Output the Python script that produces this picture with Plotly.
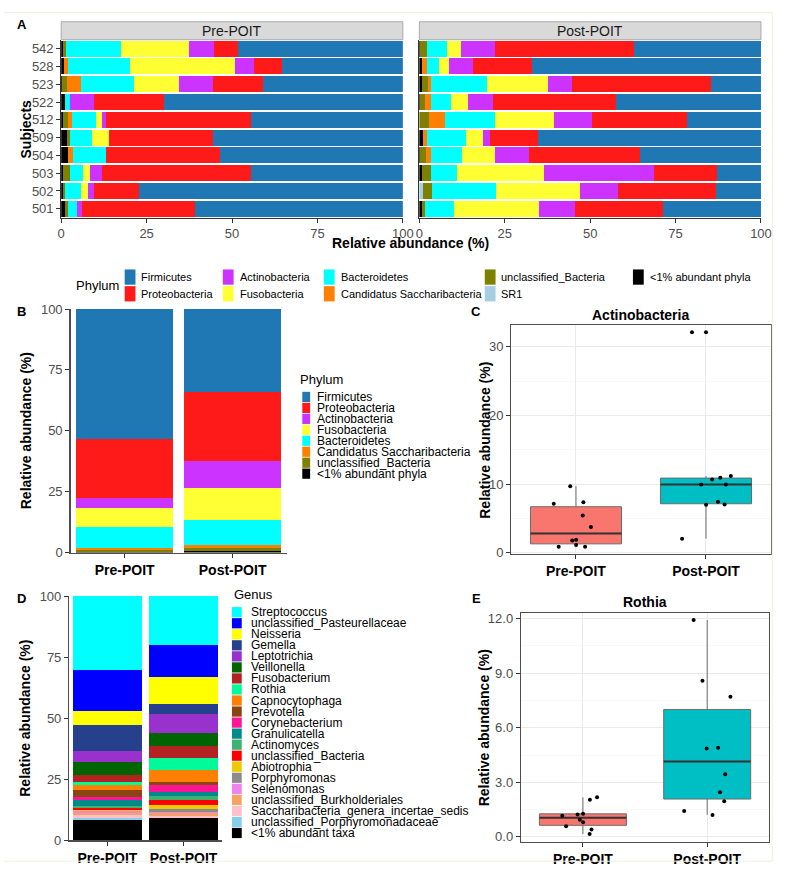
import numpy as np
import plotly.graph_objects as go

FONT = "Liberation Sans, Arial, sans-serif"
W, H = 797, 880

# ---------------- Panel A data (subject order bottom -> top) ----------------
subjects = ["501", "502", "503", "504", "509", "512", "522", "523", "528", "542"]

pre_lt1 = [1.0, 0.5, 0.5, 1.9, 1.7, 0.4, 1.0, 0.3, 0.8, 0.5]
pre_sr1 = [0, 0, 0, 0, 0, 0, 0, 0, 0, 0]
pre_uncl = [0.9, 0.7, 2.1, 0, 1.0, 1.6, 0, 1.4, 0, 0.9]
pre_cand = [0, 0, 0, 1.5, 0, 1.2, 0, 4.1, 1.3, 0]
pre_bact = [2.6, 4.5, 3.9, 9.8, 6.4, 7.1, 1.6, 15.4, 17.9, 16.0]
pre_fuso = [0, 2.1, 1.8, 0, 5.0, 1.5, 0, 13.4, 31.0, 20.1]
pre_actino = [1.7, 1.8, 3.7, 0, 0, 1.2, 7.0, 9.7, 5.5, 7.3]
pre_prot = [33.0, 13.2, 43.6, 33.3, 30.2, 42.6, 20.5, 14.8, 8.2, 6.9]
pre_firm = [60.8, 77.2, 44.4, 53.5, 55.7, 44.4, 69.9, 40.9, 35.3, 48.3]

post_lt1 = [0.7, 0, 0.7, 0.3, 1.0, 0, 0.3, 0.7, 0.8, 0.3]
post_sr1 = [0, 1.2, 0, 0, 0, 0, 0, 0, 0, 0]
post_uncl = [1.0, 2.6, 2.6, 1.6, 0, 2.7, 1.3, 1.7, 0, 1.8]
post_cand = [0, 0, 0, 1.5, 1.1, 4.8, 1.8, 1.1, 1.3, 0]
post_bact = [8.5, 18.7, 7.7, 9.2, 11.7, 14.6, 5.8, 16.3, 3.8, 6.0]
post_fuso = [24.8, 24.6, 25.6, 9.5, 4.7, 17.3, 4.9, 17.8, 2.8, 4.2]
post_actino = [10.6, 11.0, 32.2, 10.0, 2.1, 11.2, 7.4, 7.2, 7.1, 9.9]
post_prot = [25.8, 28.8, 18.3, 32.6, 14.1, 27.6, 36.0, 40.5, 17.1, 40.7]
post_firm = [28.6, 13.1, 12.9, 35.3, 65.3, 21.8, 42.5, 14.7, 67.1, 37.1]

phyla_stack = ["<1% abundant phyla", "SR1", "unclassified_Bacteria", "Candidatus Saccharibacteria",
               "Bacteroidetes", "Fusobacteria", "Actinobacteria", "Proteobacteria", "Firmicutes"]
phyla_colors = ["#000000", "#A6CEE3", "#808000", "#FF7F00",
                "#00FFFF", "#FFFF33", "#CC33FF", "#FF1A1A", "#1F78B4"]
pre_A = [pre_lt1, pre_sr1, pre_uncl, pre_cand, pre_bact, pre_fuso, pre_actino, pre_prot, pre_firm]
post_A = [post_lt1, post_sr1, post_uncl, post_cand, post_bact, post_fuso, post_actino, post_prot, post_firm]

# ---------------- Panel B data ----------------
groups = ["Pre-POIT", "Post-POIT"]
B_lt1 = [0.4, 0.5]
B_uncl = [0.7, 1.2]
B_cand = [0.9, 1.4]
B_bact = [8.5, 10.1]
B_fuso = [7.7, 13.4]
B_actino = [4.0, 11.1]
B_prot = [24.6, 28.2]
B_firm = [53.2, 34.1]
B_names = ["<1% abundant phyla", "unclassified_Bacteria", "Candidatus Saccharibacteria", "Bacteroidetes",
           "Fusobacteria", "Actinobacteria", "Proteobacteria", "Firmicutes"]
B_colors = ["#000000", "#808000", "#FF7F00", "#00FFFF", "#FFFF33", "#CC33FF", "#FF1A1A", "#1F78B4"]
B_vals = [B_lt1, B_uncl, B_cand, B_bact, B_fuso, B_actino, B_prot, B_firm]

# ---------------- Panel C / E data ----------------
C_pre = [9.71, 7.14, 7.38, 5.43, 3.76, 1.81, 1.90, 1.14, 0.90, 0.90]
C_pre_jit = [-0.044, -0.171, 0.057, 0.052, 0.115, -0.029, 0.001, 0.001, -0.133, 0.070]
C_post = [32.1, 11.19, 10.95, 10.67, 9.95, 9.95, 7.43, 7.0, 7.05, 2.05]
C_post_jit = [-0.108, 0.191, 0.110, 0.047, -0.037, 0.153, 0.092, 0.001, 0.143, -0.184]

E_pre = [1.17, 0.58, 1.23, 0.95, 1.28, 0.81, 0.16, 0.41, 2.05, 2.18]
E_pre_jit = [-0.166, -0.135, -0.043, -0.025, 0.001, 0.001, 0.054, 0.069, 0.056, 0.114]
E_post = [11.93, 8.58, 7.71, 4.86, 4.90, 3.44, 2.45, 1.96, 1.42, 1.21]
E_post_jit = [-0.109, -0.038, 0.187, -0.004, 0.088, 0.145, 0.103, 0.137, -0.185, 0.043]

# ---------------- Panel D data (legend order, top of stack first) ----------------
genera = ["Streptococcus", "unclassified_Pasteurellaceae", "Neisseria", "Gemella", "Leptotrichia",
          "Veillonella", "Fusobacterium", "Rothia", "Capnocytophaga", "Prevotella", "Corynebacterium",
          "Granulicatella", "Actinomyces", "unclassified_Bacteria", "Abiotrophia", "Porphyromonas",
          "Selenomonas", "unclassified_Burkholderiales", "Saccharibacteria_genera_incertae_sedis",
          "unclassified_Porphyromonadaceae", "<1% abundant taxa"]
genus_colors = ["#00FFFF", "#0000FF", "#FFFF00", "#27408B", "#9932CC", "#006400", "#B22222", "#00FA9A",
                "#FF7F00", "#8B4513", "#FF1493", "#008B8B", "#3CB371", "#FF0000", "#EEC900", "#8B8B8B",
                "#EE82EE", "#F4A460", "#FFC0CB", "#87CEEB", "#000000"]
D_pre = [30.1, 16.9, 5.9, 10.5, 4.5, 5.4, 2.8, 1.4, 2.0, 2.6, 1.6, 2.2, 0.9, 0.8, 0.3, 0.3, 0.8, 0.5, 1.2, 1.1, 8.2]
D_post = [19.9, 13.4, 11.0, 3.8, 7.9, 5.5, 4.9, 5.0, 4.7, 1.4, 2.6, 1.6, 2.0, 1.8, 1.6, 1.2, 0.4, 1.2, 0.8, 0.3, 9.0]

box_colors = ["#F8766D", "#00BFC4"]


def px(p):
    return p / W


def py(p):
    return 1 - p / H


fig = go.Figure()

# Panel A bars
for name, col, pre, post in zip(phyla_stack, phyla_colors, pre_A, post_A):
    fig.add_trace(go.Bar(y=subjects, x=pre, orientation="h", marker=dict(color=col, line=dict(width=0)),
                         name=name, showlegend=False, xaxis="x", yaxis="y"))
    fig.add_trace(go.Bar(y=subjects, x=post, orientation="h", marker=dict(color=col, line=dict(width=0)),
                         name=name, showlegend=False, xaxis="x2", yaxis="y2"))

# Panel B bars
for name, col, v in zip(B_names, B_colors, B_vals):
    fig.add_trace(go.Bar(x=groups, y=v, marker=dict(color=col, line=dict(width=0)), name=name,
                         showlegend=False, xaxis="x3", yaxis="y3"))

# Panel D bars (bottom of stack first)
for name, col, a, b in reversed(list(zip(genera, genus_colors, D_pre, D_post))):
    fig.add_trace(go.Bar(x=groups, y=[a, b], marker=dict(color=col, line=dict(width=0)), name=name,
                         showlegend=False, xaxis="x5", yaxis="y5"))


def box_stats(vals):
    v = np.array(vals)
    q1, med, q3 = np.percentile(v, [25, 50, 75])
    iqr = q3 - q1
    lo_f, hi_f = q1 - 1.5 * iqr, q3 + 1.5 * iqr
    inside = v[(v >= lo_f) & (v <= hi_f)]
    out = v[(v < lo_f) | (v > hi_f)]
    return q1, med, q3, inside.min(), inside.max(), out


BOXW = 0.7


def add_boxes(series, jits, xa, ya):
    for i, (vals, jit) in enumerate(zip(series, jits)):
        q1, med, q3, lo, hi, out = box_stats(vals)
        fig.add_trace(go.Box(x=[i], q1=[q1], median=[med], q3=[q3], lowerfence=[lo], upperfence=[hi],
                             width=BOXW, whiskerwidth=0, fillcolor=box_colors[i],
                             line=dict(color="#6B6B6B", width=1), boxpoints=False,
                             showlegend=False, xaxis=xa, yaxis=ya, hoverinfo="skip"))
        fig.add_trace(go.Scatter(x=[i - BOXW / 2, i + BOXW / 2], y=[med, med], mode="lines",
                                 line=dict(color="#333333", width=2), showlegend=False,
                                 xaxis=xa, yaxis=ya, hoverinfo="skip"))
        if len(out):
            fig.add_trace(go.Scatter(x=[i] * len(out), y=list(out), mode="markers",
                                     marker=dict(color="#000000", size=4), showlegend=False,
                                     xaxis=xa, yaxis=ya))
        fig.add_trace(go.Scatter(x=[i + j for j in jit], y=vals, mode="markers",
                                 marker=dict(color="#000000", size=4), showlegend=False,
                                 xaxis=xa, yaxis=ya))


add_boxes([C_pre, C_post], [C_pre_jit, C_post_jit], "x4", "y4")
add_boxes([E_pre, E_post], [E_pre_jit, E_post_jit], "x6", "y6")

tickfont = dict(size=13, color="#4D4D4D", family=FONT)
boldtick = dict(size=14, color="#000000", family=FONT, weight="bold")
base = dict(ticks="outside", ticklen=4, tickcolor="#333333", tickwidth=1, tickfont=tickfont,
            zeroline=False, showgrid=False, fixedrange=True)

# A axes
yA = [py(214.3), py(33.3)]
fig.update_layout(
    xaxis=dict(base, domain=[px(58.3), px(406.5)], range=[0, 100], tickvals=[0, 25, 50, 75, 100],
               showline=True, linecolor="#333333", linewidth=1, anchor="y"),
    yaxis=dict(base, domain=yA, type="category", categoryorder="array", categoryarray=subjects,
               range=[-0.5, 9.5], showline=True, linecolor="#333333", linewidth=1, anchor="x"),
    xaxis2=dict(base, domain=[px(423.3), px(771.5)], range=[0, 100], tickvals=[0, 25, 50, 75, 100],
                showline=True, linecolor="#333333", linewidth=1, anchor="y2"),
    yaxis2=dict(base, domain=yA, type="category", categoryorder="array", categoryarray=subjects,
                range=[-0.5, 9.5], showticklabels=False, ticks="", showline=True,
                linecolor="#333333", linewidth=1, anchor="x2"),
    # B
    xaxis3=dict(base, domain=[px(68), px(288)], type="category", categoryorder="array",
                categoryarray=groups, range=[-0.5, 1.5], tickfont=boldtick, showline=True,
                linecolor="#4D4D4D", linewidth=1.5, anchor="y3"),
    yaxis3=dict(base, domain=[py(555), py(307.3)], range=[0, 100], tickvals=[0, 25, 50, 75, 100],
                showline=True, linecolor="#4D4D4D", linewidth=1.5, anchor="x3"),
    # C
    xaxis4=dict(base, domain=[px(516.7), px(781.7)], range=[-0.5, 1.5], tickvals=[0, 1], ticktext=groups,
                tickfont=boldtick, showgrid=True, gridcolor="#EBEBEB", gridwidth=1,
                showline=True, mirror=True, linecolor="#4D4D4D", linewidth=1, anchor="y4"),
    yaxis4=dict(base, domain=[py(556.7), py(324)], range=[-0.2, 33.1], tickvals=[0, 10, 20, 30],
                showgrid=True, gridcolor="#EBEBEB", gridwidth=1,
                minor=dict(tickvals=[5, 15, 25], showgrid=True, gridcolor="#F4F4F4", gridwidth=0.6, ticks=""),
                showline=True, mirror=True, linecolor="#4D4D4D", linewidth=1, anchor="x4"),
    # D
    xaxis5=dict(base, domain=[px(66.7), px(221.7)], type="category", categoryorder="array",
                categoryarray=groups, range=[-0.5, 1.5], tickfont=boldtick, showline=True,
                linecolor="#4D4D4D", linewidth=1.5, anchor="y5"),
    yaxis5=dict(base, domain=[py(847.7), py(599.3)], range=[0, 100], tickvals=[0, 25, 50, 75, 100],
                showline=True, linecolor="#4D4D4D", linewidth=1.5, anchor="x5"),
    # E
    xaxis6=dict(base, domain=[px(526.7), px(780)], range=[-0.5, 1.5], tickvals=[0, 1], ticktext=groups,
                tickfont=boldtick, showgrid=True, gridcolor="#EBEBEB", gridwidth=1,
                showline=True, mirror=True, linecolor="#4D4D4D", linewidth=1, anchor="y6"),
    yaxis6=dict(base, domain=[py(849.3), py(616.7)], range=[-0.27, 12.3], tickvals=[0, 3, 6, 9, 12],
                tickformat=".1f", showgrid=True, gridcolor="#EBEBEB", gridwidth=1,
                minor=dict(tickvals=[1.5, 4.5, 7.5, 10.5], showgrid=True, gridcolor="#F4F4F4",
                           gridwidth=0.6, ticks=""),
                showline=True, mirror=True, linecolor="#4D4D4D", linewidth=1, anchor="x6"),
)

shapes = []
annotations = []


def text(x, y, s, size=13, bold=False, color="#000000", angle=0, xanchor="center"):
    annotations.append(dict(x=px(x), y=py(y), xref="paper", yref="paper", text=s, showarrow=False,
                            xanchor=xanchor, yanchor="middle", textangle=angle,
                            font=dict(size=size, color=color, family=FONT,
                                      weight="bold" if bold else "normal")))


def rect(x0, y0, x1, y1, fill, line_color=None, lw=0):
    shapes.append(dict(type="rect", xref="paper", yref="paper", x0=px(x0), x1=px(x1), y0=py(y1), y1=py(y0),
                       fillcolor=fill, line=dict(width=lw, color=line_color or fill), layer="above"))


# faint page frame lines
for (x0, y0, x1, y1) in [(0, 5.5, 783, 5.5), (783, 5.5, 783, 869), (0, 869, 783, 869)]:
    shapes.append(dict(type="line", xref="paper", yref="paper", x0=px(x0), x1=px(x1), y0=py(y0), y1=py(y1),
                       line=dict(color="#EFEEE2", width=1)))

# facet strips
rect(58.3, 15, 406.5, 33.3, "#D9D9D9", "#9A9A9A", 0.8)
rect(423.3, 15, 771.5, 33.3, "#D9D9D9", "#9A9A9A", 0.8)
text(232.4, 24.5, "Pre-POIT", size=14, color="#1A1A1A")
text(597.4, 24.5, "Post-POIT", size=14, color="#1A1A1A")

# panel letters
for s, x, y in [("A", 18, 18), ("B", 18, 310), ("C", 481, 310), ("D", 18, 602), ("E", 482, 602)]:
    text(x, y, s, size=13, bold=True)

# axis titles
text(22, 124, "Subjects", size=14, bold=True, angle=-90)
text(414.5, 240, "Relative abundance (%)", size=14, bold=True)
text(22, 431, "Relative abundance (%)", size=14, bold=True, angle=-90)
text(22, 723.5, "Relative abundance (%)", size=14, bold=True, angle=-90)
text(490, 440.5, "Relative abundance (%)", size=14, bold=True, angle=-90)
text(489, 733, "Relative abundance (%)", size=14, bold=True, angle=-90)
text(649.2, 313, "Actinobacteria", size=14, bold=True)
text(653.3, 605, "Rothia", size=14, bold=True)


def esc(s):
    return s.replace("<", "&lt;")


# Legend A (bottom, two rows, column-major)
text(71, 283.5, "Phylum", size=13, xanchor="left")
A_leg_cols = [(138, ["Firmicutes", "Proteobacteria"]),
              (238, ["Actinobacteria", "Fusobacteria"]),
              (341, ["Bacteroidetes", "Candidatus Saccharibacteria"]),
              (505, ["unclassified_Bacteria", "SR1"]),
              (656, ["<1% abundant phyla"])]
col_of = dict(zip(phyla_stack, phyla_colors))
row_y = [275, 292]
for tx, names in A_leg_cols:
    for r, nm in enumerate(names):
        rect(tx - 15, row_y[r] - 8, tx - 4, row_y[r] + 7.5, col_of[nm])
        text(tx, row_y[r], esc(nm), size=11, xanchor="left")

# Legend B
text(300, 379, "Phylum", size=13, xanchor="left")
for i, nm in enumerate(reversed(B_names)):
    yc = 396.7 + i * 11.15
    rect(304, yc - 5.2, 312, yc + 5.2, dict(zip(B_names, B_colors))[nm])
    text(316.7, yc, esc(nm), size=12, xanchor="left")

# Legend D
text(232, 597.7, "Genus", size=13, xanchor="left")
for i, (nm, col) in enumerate(zip(genera, genus_colors)):
    yc = 615.7 + i * 11.23
    rect(232.3, yc - 5.2, 242.3, yc + 5.2, col)
    text(249.3, yc, esc(nm), size=12, xanchor="left")

fig.update_layout(
    width=W, height=H, margin=dict(l=0, r=0, t=0, b=0), autosize=False,
    paper_bgcolor="#FFFFFF", plot_bgcolor="#FFFFFF",
    barmode="stack", bargap=0.1, boxmode="overlay",
    font=dict(family=FONT, color="#000000"),
    shapes=shapes, annotations=annotations, showlegend=False,
    hovermode=False,
)

fig.write_html("out.html",
               config={"displayModeBar": False, "staticPlot": True},
               post_script="document.documentElement.style.margin='0';document.body.style.margin='0';"
                           "document.body.style.padding='0';document.body.style.overflow='hidden';")
